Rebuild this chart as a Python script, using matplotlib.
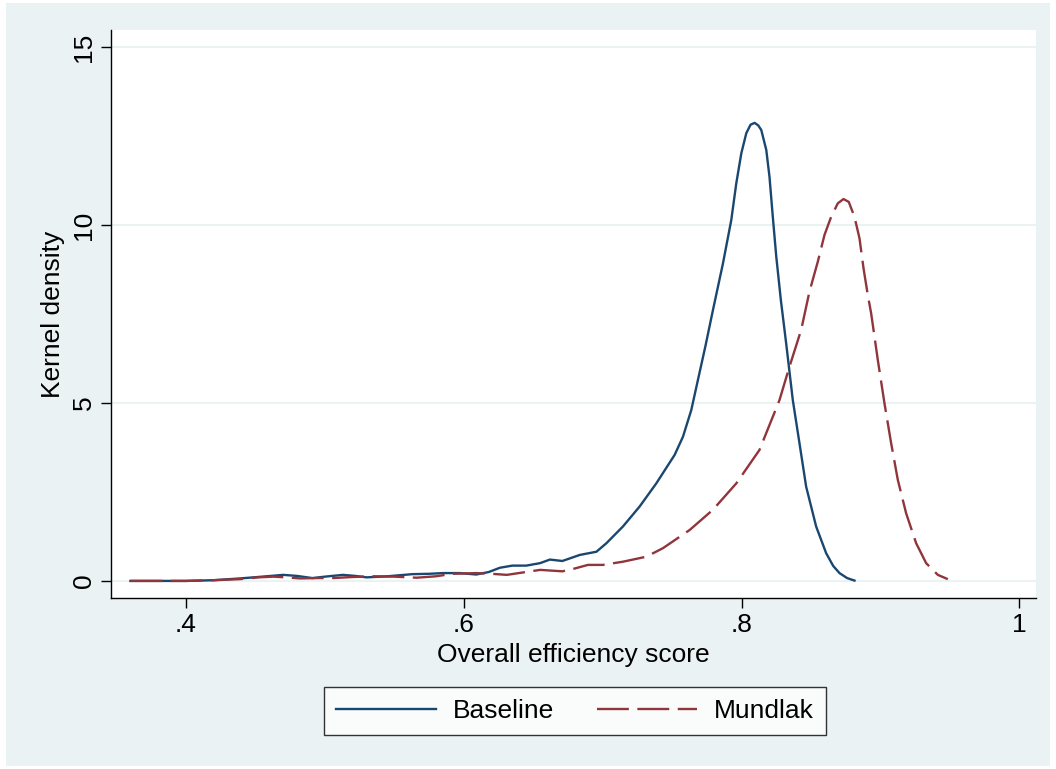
import matplotlib
matplotlib.use("Agg")
import matplotlib.pyplot as plt
from matplotlib.patches import Rectangle
from matplotlib.ticker import FixedLocator

plt.rcParams['font.family'] = ['Liberation Sans', 'DejaVu Sans']

baseline_x = [0.36, 0.40, 0.42, 0.439, 0.455, 0.47, 0.48, 0.491, 0.50, 0.513, 0.522, 0.530, 0.545,
              0.563, 0.575, 0.585, 0.597, 0.609, 0.618, 0.626, 0.635, 0.645, 0.655, 0.662, 0.671,
              0.6835, 0.6955, 0.7027, 0.7146, 0.7266, 0.7386, 0.7518, 0.7578, 0.7638, 0.7686,
              0.774, 0.7794, 0.7866, 0.7926, 0.7962, 0.7998, 0.8034, 0.8065, 0.8094, 0.8120,
              0.8142, 0.8178, 0.8201, 0.8225, 0.825, 0.8283, 0.8321, 0.8369, 0.8417, 0.8465,
              0.8537, 0.8609, 0.8660, 0.8705, 0.8760, 0.8813]
baseline_y = [0.0, 0.0, 0.02, 0.07, 0.12, 0.17, 0.14, 0.08, 0.12, 0.17, 0.14, 0.10, 0.13,
              0.19, 0.20, 0.22, 0.22, 0.18, 0.25, 0.37, 0.43, 0.43, 0.50, 0.60, 0.56,
              0.73, 0.82, 1.06, 1.53, 2.09, 2.74, 3.54, 4.05, 4.80, 5.65,
              6.6, 7.61, 8.92, 10.14, 11.17, 12.01, 12.58, 12.82, 12.87, 12.80,
              12.67, 12.11, 11.36, 10.23, 9.11, 7.89, 6.68, 5.08, 3.87, 2.65,
              1.53, 0.78, 0.42, 0.22, 0.08, 0.01]

mundlak_x = [0.36, 0.40, 0.42, 0.439, 0.452, 0.463, 0.472, 0.482, 0.495, 0.506, 0.52, 0.535, 0.55,
             0.566, 0.58, 0.592, 0.609, 0.62, 0.631, 0.643, 0.655, 0.671, 0.68,
             0.6894, 0.7002, 0.7146, 0.7314, 0.7434, 0.7626, 0.7794, 0.7962, 0.8129, 0.8273,
             0.8345, 0.8429, 0.8489, 0.8549, 0.8597, 0.8645, 0.8693, 0.8734, 0.8772, 0.8813,
             0.8849, 0.8878, 0.8909, 0.8933, 0.8981, 0.9029, 0.9077, 0.9125, 0.9185, 0.9257,
             0.9329, 0.9413, 0.9485]
mundlak_y = [0.0, 0.0, 0.02, 0.05, 0.10, 0.12, 0.10, 0.07, 0.08, 0.08, 0.11, 0.13, 0.12,
             0.09, 0.13, 0.20, 0.22, 0.20, 0.17, 0.24, 0.31, 0.27, 0.35,
             0.45, 0.45, 0.54, 0.68, 0.92, 1.43, 2.0, 2.74, 3.68, 5.08,
             6.02, 7.05, 8.13, 8.97, 9.72, 10.23, 10.61, 10.73, 10.65, 10.23,
             9.63, 8.79, 8.03, 7.52, 6.21, 4.99, 3.87, 2.84, 1.90, 1.06,
             0.50, 0.17, 0.05]

x_ticks = [0.4, 0.6, 0.8, 1.0]
x_tick_labels = ['.4', '.6', '.8', '1']
y_ticks = [0, 5, 10, 15]
y_tick_labels = ['0', '5', '10', '15']

series_names = ['Baseline', 'Mundlak']
navy = '#1A476F'
maroon = '#90353B'
bg = '#EAF2F3'

fig = plt.figure(figsize=(10.56, 7.69), dpi=100)
fig.patch.set_facecolor('white')
fig.patches.append(Rectangle((6/1056, 3/769), 1044/1056, 763/769, transform=fig.transFigure,
                             facecolor=bg, edgecolor='none', zorder=-10))

ax = fig.add_axes([111/1056, 1 - 598/769, 925/1056, 568/769])
ax.set_facecolor('white')
ax.plot(baseline_x, baseline_y, color=navy, lw=1.7, label=series_names[0])
ax.plot(mundlak_x, mundlak_y, color=maroon, lw=1.7, dashes=(13.5, 3.6), label=series_names[1])

ax.set_xlim(0.346, 1.012)
ax.set_ylim(-0.48, 15.48)
ax.xaxis.set_major_locator(FixedLocator(x_ticks))
ax.set_xticklabels(x_tick_labels)
ax.yaxis.set_major_locator(FixedLocator(y_ticks))
ax.set_yticklabels(y_tick_labels, rotation=90, va='center')
ax.grid(axis='y', color=bg, lw=1.5)
ax.set_axisbelow(True)
for s in ['top', 'right']:
    ax.spines[s].set_visible(False)
for s in ['left', 'bottom']:
    ax.spines[s].set_color('black')
    ax.spines[s].set_linewidth(1.0)
ax.tick_params(axis='both', length=7, width=1.0, labelsize=19, color='black', pad=4)
ax.set_xlabel('Overall efficiency score', fontsize=19, labelpad=4)
ax.set_ylabel('Kernel density', fontsize=19, labelpad=5)

leg = fig.legend(loc='center', bbox_to_anchor=(575/1056, 1 - 711/769), ncol=2, fontsize=19,
                 frameon=True, fancybox=False, edgecolor='black', handlelength=3.8,
                 columnspacing=1.6, handletextpad=0.65, borderpad=0.45, borderaxespad=0)
leg.get_frame().set_linewidth(1.0)
leg.get_frame().set_facecolor('white')

fig.savefig('out.png', dpi=100, facecolor=fig.get_facecolor())
